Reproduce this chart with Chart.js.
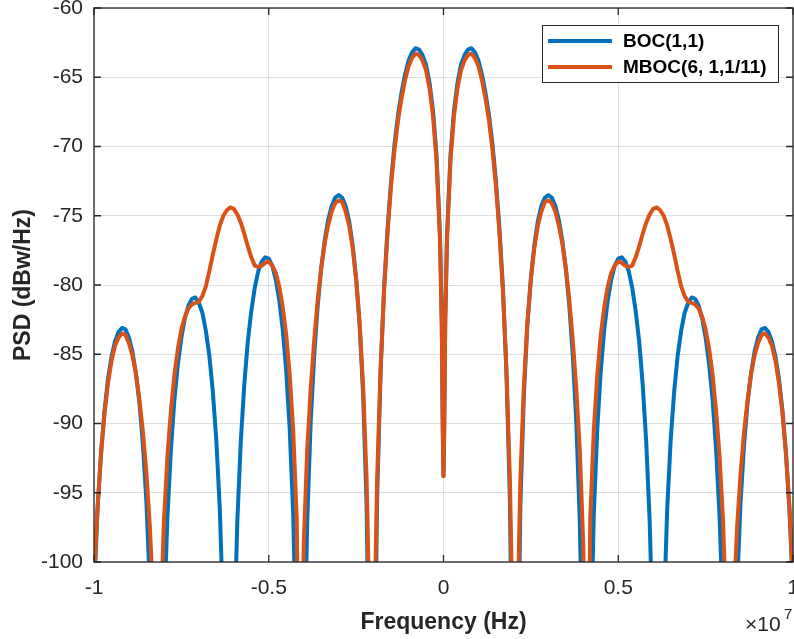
<!DOCTYPE html>
<html>
<head>
<meta charset="utf-8">
<script src="https://cdn.jsdelivr.net/npm/chart.js@4.4.0/dist/chart.umd.min.js"></script>
<style>
  html, body { margin: 0; padding: 0; background: #fff; }
</style>
</head>
<body>
<canvas id="psdChart" width="794" height="639"></canvas>
<script>
// frequency axis, in units of 1e7 Hz
var freq = [
  -1.00, -0.99, -0.98, -0.97, -0.96, -0.95, -0.94, -0.93, -0.92, -0.91,
  -0.90, -0.89, -0.88, -0.87, -0.86, -0.85, -0.84, -0.83, -0.82, -0.81,
  -0.80, -0.79, -0.78, -0.77, -0.76, -0.75, -0.74, -0.73, -0.72, -0.71,
  -0.70, -0.69, -0.68, -0.67, -0.66, -0.65, -0.64, -0.63, -0.62, -0.61,
  -0.60, -0.59, -0.58, -0.57, -0.56, -0.55, -0.54, -0.53, -0.52, -0.51,
  -0.50, -0.49, -0.48, -0.47, -0.46, -0.45, -0.44, -0.43, -0.42, -0.41,
  -0.40, -0.39, -0.38, -0.37, -0.36, -0.35, -0.34, -0.33, -0.32, -0.31,
  -0.30, -0.29, -0.28, -0.27, -0.26, -0.25, -0.24, -0.23, -0.22, -0.21,
  -0.20, -0.19, -0.18, -0.17, -0.16, -0.15, -0.14, -0.13, -0.12, -0.11,
  -0.10, -0.09, -0.08, -0.07, -0.06, -0.05, -0.04, -0.03, -0.02, -0.01,
  -0.005, -0.002, 0, 0.002, 0.005,
  0.01, 0.02, 0.03, 0.04, 0.05, 0.06, 0.07, 0.08, 0.09, 0.10,
  0.11, 0.12, 0.13, 0.14, 0.15, 0.16, 0.17, 0.18, 0.19, 0.20,
  0.21, 0.22, 0.23, 0.24, 0.25, 0.26, 0.27, 0.28, 0.29, 0.30,
  0.31, 0.32, 0.33, 0.34, 0.35, 0.36, 0.37, 0.38, 0.39, 0.40,
  0.41, 0.42, 0.43, 0.44, 0.45, 0.46, 0.47, 0.48, 0.49, 0.50,
  0.51, 0.52, 0.53, 0.54, 0.55, 0.56, 0.57, 0.58, 0.59, 0.60,
  0.61, 0.62, 0.63, 0.64, 0.65, 0.66, 0.67, 0.68, 0.69, 0.70,
  0.71, 0.72, 0.73, 0.74, 0.75, 0.76, 0.77, 0.78, 0.79, 0.80,
  0.81, 0.82, 0.83, 0.84, 0.85, 0.86, 0.87, 0.88, 0.89, 0.90,
  0.91, 0.92, 0.93, 0.94, 0.95, 0.96, 0.97, 0.98, 0.99, 1.00
];

// BOC(1,1) PSD, dBW/Hz
var bocPsd = [
  -102.3, -96.3, -92.2, -89.1, -86.8, -85.2, -84.1, -83.4, -83.1, -83.2,
  -83.8, -84.8, -86.4, -88.5, -91.5, -95.7, -101.8, -112.3, -140.0, -117.6,
  -104.1, -96.8, -91.9, -88.3, -85.7, -83.8, -82.4, -81.5, -81.0, -80.9,
  -81.3, -82.0, -83.3, -85.1, -87.7, -91.2, -96.2, -104.2, -120.6, -128.9,
  -106.5, -97.1, -91.3, -87.2, -84.1, -81.9, -80.2, -79.0, -78.3, -78.0,
  -78.1, -78.6, -79.6, -81.1, -83.2, -86.2, -90.4, -96.6, -107.6, -130.0,
  -109.9, -97.1, -89.9, -85.1, -81.5, -78.8, -76.8, -75.3, -74.3, -73.7,
  -73.5, -73.7, -74.3, -75.4, -77.1, -79.5, -82.9, -87.9, -95.9, -113.5,
  -115.9, -95.5, -86.3, -80.2, -75.9, -72.5, -69.8, -67.7, -66.1, -64.8,
  -63.8, -63.2, -62.9, -63.0, -63.4, -64.1, -65.4, -67.4, -70.6, -76.4,
  -82.4, -90.4, -93.8, -90.4, -82.4,
  -76.4, -70.6, -67.4, -65.4, -64.1, -63.4, -63.0, -62.9, -63.2, -63.8,
  -64.8, -66.1, -67.7, -69.8, -72.5, -75.9, -80.2, -86.3, -95.5, -115.9,
  -113.5, -95.9, -87.9, -82.9, -79.5, -77.1, -75.4, -74.3, -73.7, -73.5,
  -73.7, -74.3, -75.3, -76.8, -78.8, -81.5, -85.1, -89.9, -97.1, -109.9,
  -130.0, -107.6, -96.6, -90.4, -86.2, -83.2, -81.1, -79.6, -78.6, -78.1,
  -78.0, -78.3, -79.0, -80.2, -81.9, -84.1, -87.2, -91.3, -97.1, -106.5,
  -128.9, -120.6, -104.2, -96.2, -91.2, -87.7, -85.1, -83.3, -82.0, -81.3,
  -80.9, -81.0, -81.5, -82.4, -83.8, -85.7, -88.3, -91.9, -96.8, -104.1,
  -117.6, -140.0, -112.3, -101.8, -95.7, -91.5, -88.5, -86.4, -84.8, -83.8,
  -83.2, -83.1, -83.4, -84.1, -85.2, -86.8, -89.1, -92.2, -96.3, -102.3
];

// MBOC(6,1,1/11) PSD, dBW/Hz
var mbocPsd = [
  -101.5, -96.1, -92.2, -89.3, -87.1, -85.5, -84.4, -83.8, -83.5, -83.6,
  -84.2, -85.1, -86.4, -88.3, -90.6, -93.6, -97.5, -103.1, -120.0, -104.9,
  -97.1, -92.4, -89.1, -86.5, -84.6, -83.2, -82.3, -81.7, -81.4, -81.3,
  -81.2, -80.8, -80.1, -79.0, -77.8, -76.7, -75.7, -75.0, -74.6, -74.4,
  -74.5, -74.9, -75.5, -76.3, -77.2, -78.0, -78.6, -78.7, -78.6, -78.4,
  -78.3, -78.6, -79.1, -80.1, -81.6, -83.6, -86.5, -90.5, -96.8, -119.9,
  -98.8, -91.9, -87.5, -84.0, -81.1, -78.8, -77.0, -75.7, -74.7, -74.1,
  -73.9, -74.0, -74.7, -75.7, -77.3, -79.6, -82.7, -87.3, -94.0, -106.1,
  -107.7, -94.1, -86.0, -80.4, -76.2, -72.8, -70.2, -68.1, -66.5, -65.2,
  -64.2, -63.6, -63.3, -63.4, -63.8, -64.5, -65.8, -67.8, -71.0, -76.8,
  -82.8, -90.8, -93.8, -90.8, -82.8,
  -76.8, -71.0, -67.8, -65.8, -64.5, -63.8, -63.4, -63.3, -63.6, -64.2,
  -65.2, -66.5, -68.1, -70.2, -72.8, -76.2, -80.4, -86.0, -94.1, -107.7,
  -106.1, -94.0, -87.3, -82.7, -79.6, -77.3, -75.7, -74.7, -74.0, -73.9,
  -74.1, -74.7, -75.7, -77.0, -78.8, -81.1, -84.0, -87.5, -91.9, -98.8,
  -119.9, -96.8, -90.5, -86.5, -83.6, -81.6, -80.1, -79.1, -78.6, -78.3,
  -78.4, -78.6, -78.7, -78.6, -78.0, -77.2, -76.3, -75.5, -74.9, -74.5,
  -74.4, -74.6, -75.0, -75.7, -76.7, -77.8, -79.0, -80.1, -80.8, -81.2,
  -81.3, -81.4, -81.7, -82.3, -83.2, -84.6, -86.5, -89.1, -92.4, -97.1,
  -104.9, -120.0, -103.1, -97.5, -93.6, -90.6, -88.3, -86.4, -85.1, -84.2,
  -83.6, -83.5, -83.8, -84.4, -85.5, -87.1, -89.3, -92.2, -96.1, -101.5
];

var xTicks = [-1, -0.5, 0, 0.5, 1];
var xTickLabels = ['-1', '-0.5', '0', '0.5', '1'];
var yTicks = [-100, -95, -90, -85, -80, -75, -70, -65, -60];
var seriesNames = ['BOC(1,1)', 'MBOC(6, 1,1/11)'];
var seriesColors = ['#0072BD', '#D95319'];

var FONT = '"Liberation Sans", Arial, Helvetica, sans-serif';
var INK = '#262626';

function toPoints(ys) {
    return freq.map(function(f, i) { return { x: f, y: ys[i] }; });
}

// keep the plot box fixed: no extra room for overhanging tick labels
function noOverhang(s) {
    s.paddingLeft = 0;
    s.paddingRight = 0;
    s.paddingTop = 0;
    s.paddingBottom = 0;
}

// box, inward ticks, exponent label and the boxed legend
var matlabFrame = {
    id: 'matlabFrame',
    afterDraw: function(chart) {
        var ctx = chart.ctx;
        var ca = chart.chartArea;
        var xs = chart.scales.x;
        var ys = chart.scales.y;
        ctx.save();

        ctx.strokeStyle = INK;
        ctx.lineWidth = 1.3;
        ctx.strokeRect(ca.left, ca.top, ca.right - ca.left, ca.bottom - ca.top);

        ctx.beginPath();
        xTicks.forEach(function(v) {
            var px = xs.getPixelForValue(v);
            ctx.moveTo(px, ca.bottom); ctx.lineTo(px, ca.bottom - 7);
            ctx.moveTo(px, ca.top); ctx.lineTo(px, ca.top + 7);
        });
        yTicks.forEach(function(v) {
            var py = ys.getPixelForValue(v);
            ctx.moveTo(ca.left, py); ctx.lineTo(ca.left + 7, py);
            ctx.moveTo(ca.right, py); ctx.lineTo(ca.right - 7, py);
        });
        ctx.stroke();

        // x10^7 multiplier under the right end of the x axis
        ctx.fillStyle = INK;
        ctx.textBaseline = 'alphabetic';
        ctx.textAlign = 'left';
        ctx.font = '21px ' + FONT;
        ctx.fillText('\u00d710', 745, 631);
        ctx.font = '15px ' + FONT;
        ctx.fillText('7', 784, 619);

        // legend
        var lx = 542, ly = 25, lw = 236, lh = 57;
        ctx.fillStyle = '#ffffff';
        ctx.fillRect(lx, ly, lw, lh);
        ctx.strokeStyle = INK;
        ctx.lineWidth = 1;
        ctx.strokeRect(lx + 0.5, ly + 0.5, lw, lh);
        ctx.font = 'bold 19px ' + FONT;
        ctx.textBaseline = 'middle';
        seriesNames.forEach(function(name, i) {
            var y = ly + 16 + i * 26;
            ctx.strokeStyle = seriesColors[i];
            ctx.lineWidth = 4;
            ctx.beginPath();
            ctx.moveTo(lx + 6, y);
            ctx.lineTo(lx + 70, y);
            ctx.stroke();
            ctx.fillStyle = '#000000';
            ctx.fillText(name, lx + 81, y + 1);
        });

        ctx.restore();
    }
};

new Chart(document.getElementById('psdChart').getContext('2d'), {
    type: 'line',
    data: {
        datasets: [
            {
                label: seriesNames[0],
                data: toPoints(bocPsd),
                borderColor: seriesColors[0],
                borderWidth: 4,
                pointRadius: 0,
                borderJoinStyle: 'round',
                order: 2
            },
            {
                label: seriesNames[1],
                data: toPoints(mbocPsd),
                borderColor: seriesColors[1],
                borderWidth: 4,
                pointRadius: 0,
                borderJoinStyle: 'round',
                order: 1
            }
        ]
    },
    options: {
        responsive: false,
        animation: false,
        layout: { padding: { top: 8, right: 1, left: 0, bottom: 0 } },
        plugins: {
            legend: { display: false },
            tooltip: { enabled: false }
        },
        scales: {
            x: {
                type: 'linear',
                min: -1,
                max: 1,
                afterBuildTicks: function(s) { s.ticks = xTicks.map(function(v) { return { value: v }; }); },
                afterFit: function(s) { s.height = 77; noOverhang(s); },
                grid: { color: 'rgba(38,38,38,0.15)', drawTicks: false },
                border: { display: false },
                ticks: {
                    color: INK,
                    padding: 14,
                    maxRotation: 0,
                    font: { family: FONT, size: 21 },
                    callback: function(v, i) { return xTickLabels[i]; }
                },
                title: {
                    display: true,
                    text: 'Frequency (Hz)',
                    color: INK,
                    padding: { top: 0, bottom: 3 },
                    font: { family: FONT, size: 23, weight: 'bold' }
                }
            },
            y: {
                min: -100,
                max: -60,
                afterBuildTicks: function(s) { s.ticks = yTicks.map(function(v) { return { value: v }; }); },
                afterFit: function(s) { s.width = 94; noOverhang(s); },
                grid: { color: 'rgba(38,38,38,0.15)', drawTicks: false },
                border: { display: false },
                ticks: {
                    color: INK,
                    padding: 11,
                    font: { family: FONT, size: 21 }
                },
                title: {
                    display: true,
                    text: 'PSD (dBw/Hz)',
                    color: INK,
                    padding: { top: 10, bottom: 0 },
                    font: { family: FONT, size: 23, weight: 'bold' }
                }
            }
        }
    },
    plugins: [matlabFrame]
});
</script>
</body>
</html>
